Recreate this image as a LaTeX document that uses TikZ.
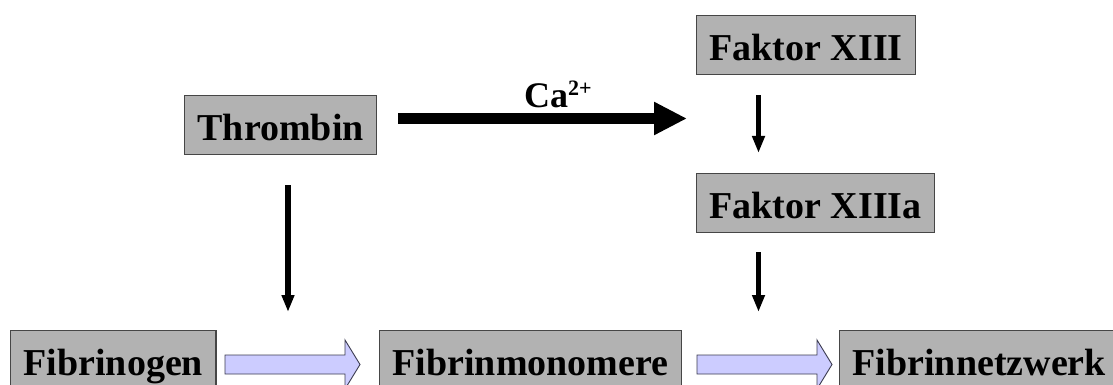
\documentclass[tikz,border=0pt]{standalone}
\usepackage{fontspec}
\setmainfont{Liberation Serif}
\usetikzlibrary{arrows.meta,calc}
\definecolor{boxfill}{RGB}{178,178,178}
\definecolor{boxline}{RGB}{70,70,70}
\definecolor{convfill}{RGB}{204,204,255}
\definecolor{convline}{RGB}{60,60,80}

\begin{document}
\begin{tikzpicture}[x=1pt,y=-1pt,
  stage/.style={draw=boxline, line width=1.2pt, fill=boxfill, anchor=north west,
    inner xsep=13pt, inner ysep=0pt, text height=45pt, text depth=14pt,
    font=\fontsize{38}{40}\selectfont\bfseries},
  act/.style={line width=5.5pt, -{Triangle[length=17pt,width=12pt]}},
  caarrow/.style={line width=11pt, -{Triangle[length=33pt,width=31pt]}},
  convstyle/.style={draw=convline, line width=0.9pt, fill=convfill, line join=miter},
  convarrow/.pic={
    \path[convstyle] (0,-9.5) -- (120,-9.5) -- (120,-24.5) -- (135,0)
      -- (120,24.5) -- (120,9.5) -- (0,9.5) -- cycle;
  }]
  \fill[white] (0,0) rectangle (1113,385);
  \clip (0,0) rectangle (1113,385);

  % stages of the cascade
  \node[stage] (thr) at (184,95)  {Thrombin};
  \node[stage] (fx)  at (696,15)  {Faktor XIII};
  \node[stage] (fxa) at (696,173) {Faktor XIIIa};
  \node[stage] (fg)  at (10,330)  {Fibrinogen};
  \node[stage] (fm)  at (379,330) {Fibrinmonomere};
  \node[stage] (fn)  at (839,330) {Fibrinnetzwerk};

  % conversion arrows between the fibrin stages
  \pic at (225,364.5) {convarrow};
  \pic at (697,364.5) {convarrow};

  % free ends of the activating arrows
  \coordinate (t1) at (288,312);
  \coordinate (t2) at (758.5,312);
  \coordinate (t3) at (687,118.5);

  \draw[caarrow, shorten <=21pt] (thr.east |- t3) -- (t3);
  \node[anchor=base west, inner sep=0pt, font=\fontsize{36}{38}\selectfont\bfseries] (ca) at (524,108)
    {Ca\raisebox{12pt}{\fontsize{22}{24}\selectfont 2+}};

  \draw[act, shorten <=30pt] (thr.south -| t1) -- (t1);
  \draw[act, shorten <=20pt, shorten >=20pt] (fx.south -| t2) -- (fxa.north -| t2);
  \draw[act, shorten <=19pt] (fxa.south -| t2) -- (t2);
\end{tikzpicture}
\end{document}
